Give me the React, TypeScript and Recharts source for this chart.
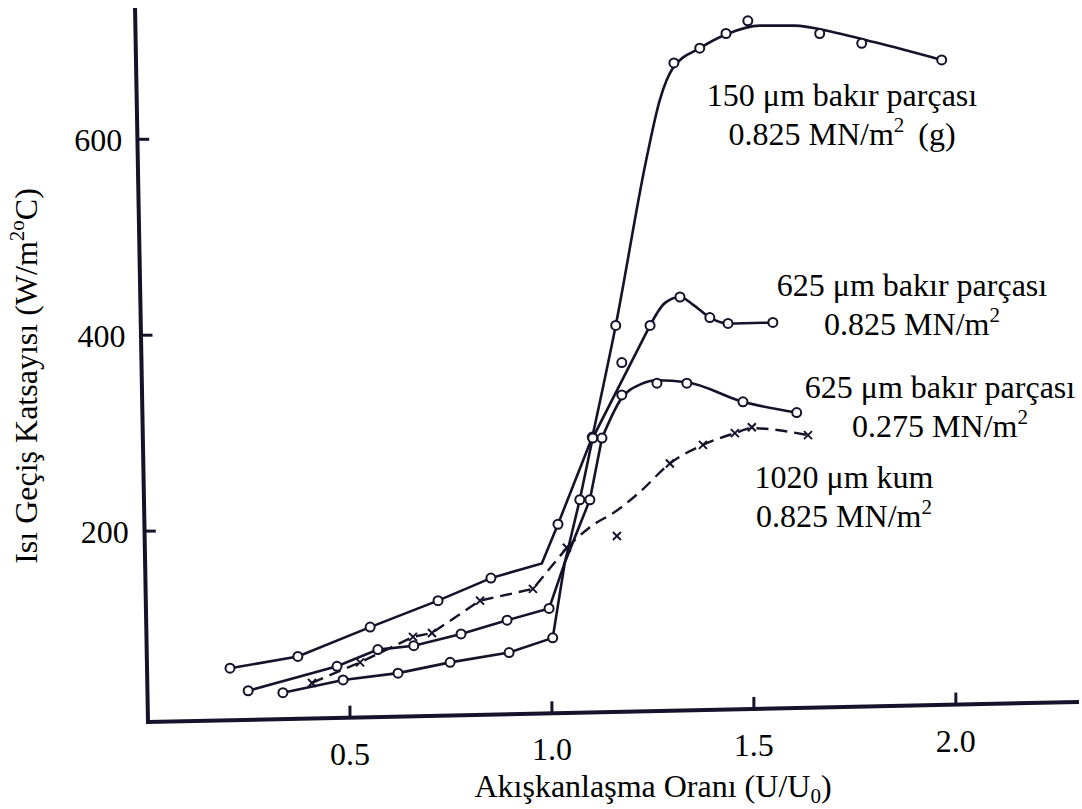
import { ComposedChart, Line, Scatter, XAxis, YAxis, ReferenceLine } from 'recharts';

type Pt = { x: number; y: number };

const pt = (x: number, y: number): Pt => ({ x, y });

// 150 µm bakır parçası, 0.825 MN/m2 (g)
const low150: Pt[] = [
  pt(0.203, 60), pt(0.371, 72), pt(0.55, 102), pt(0.718, 129), pt(0.849, 152),
  pt(0.975, 167), pt(1.015, 207), pt(1.1, 296),
];
const high150: Pt[] = [
  pt(1.1, 296), pt(1.158, 410), pt(1.235, 582), pt(1.267, 640), pt(1.3, 673),
  pt(1.366, 693), pt(1.431, 707), pt(1.515, 716), pt(1.6, 716), pt(1.7, 709),
  pt(1.8, 699), pt(1.965, 681),
];
const points150: Pt[] = [
  pt(0.203, 60), pt(0.371, 72), pt(0.55, 102), pt(0.718, 129), pt(0.849, 152),
  pt(1.015, 207), pt(1.1, 296), pt(1.158, 410), pt(1.302, 678), pt(1.366, 693),
  pt(1.431, 708), pt(1.485, 721), pt(1.663, 708), pt(1.767, 698), pt(1.965, 681),
];

// 625 µm bakır parçası, 0.825 MN/m2
const low625a: Pt[] = [
  pt(0.248, 37), pt(0.468, 62), pt(0.569, 79), pt(0.658, 83), pt(0.775, 95),
  pt(0.889, 109), pt(0.993, 121), pt(1.032, 168), pt(1.069, 232), pt(1.101, 295),
  pt(1.243, 410),
];
const high625a: Pt[] = [
  pt(1.243, 410), pt(1.28, 433), pt(1.317, 439), pt(1.35, 431), pt(1.391, 418),
  pt(1.436, 412), pt(1.547, 413),
];
const points625a: Pt[] = [
  pt(0.248, 37), pt(0.468, 62), pt(0.569, 79), pt(0.658, 83), pt(0.775, 95),
  pt(0.889, 109), pt(0.993, 121), pt(1.069, 232), pt(1.101, 295), pt(1.173, 372),
  pt(1.243, 410), pt(1.317, 439), pt(1.391, 418), pt(1.436, 412), pt(1.547, 413),
];

// 625 µm bakır parçası, 0.275 MN/m2
const low625b: Pt[] = [
  pt(0.334, 35), pt(0.483, 48), pt(0.619, 55), pt(0.748, 66), pt(0.894, 76),
  pt(1.002, 91), pt(1.032, 168), pt(1.094, 232), pt(1.124, 295),
];
const high625b: Pt[] = [
  pt(1.124, 295), pt(1.173, 336), pt(1.22, 350), pt(1.26, 354), pt(1.334, 352),
  pt(1.473, 332), pt(1.606, 321),
];
const points625b: Pt[] = [
  pt(0.334, 35), pt(0.483, 48), pt(0.619, 55), pt(0.748, 66), pt(0.894, 76),
  pt(1.002, 91), pt(1.094, 232), pt(1.124, 295), pt(1.173, 339), pt(1.26, 351),
  pt(1.334, 351), pt(1.473, 332), pt(1.606, 321),
];

// 1020 µm kum, 0.825 MN/m2
const lowKum: Pt[] = [
  pt(0.406, 45), pt(0.525, 66), pt(0.656, 92), pt(0.703, 96), pt(0.822, 129),
  pt(0.953, 141), pt(1.037, 183),
];
const highKum: Pt[] = [
  pt(1.037, 183), pt(1.094, 204), pt(1.161, 221), pt(1.218, 240), pt(1.292, 269),
  pt(1.374, 288), pt(1.453, 300), pt(1.495, 305), pt(1.634, 298),
];
const pointsKum: Pt[] = [
  pt(0.406, 45), pt(0.525, 66), pt(0.656, 92), pt(0.703, 96), pt(0.822, 129),
  pt(0.953, 141), pt(1.037, 183), pt(1.161, 195), pt(1.292, 269), pt(1.374, 288),
  pt(1.453, 300), pt(1.495, 306), pt(1.634, 298),
];

const xTicks = [0.5, 1.0, 1.5, 2.0];
const yTicks = [200, 400, 600];

const INK = '#15122a';
const FONT = '"Liberation Serif", "Times New Roman", serif';

// the scanned axes are not quite straight, ticks follow them
const xAxisLine: Pt[] = [pt(0, 5.1), pt(2.3, 25.5)];
const yAxisLine: Pt[] = [pt(-0.032, 732), pt(0, 5.1)];

function XTick(props: any) {
  const { x, y, payload } = props;
  const v = payload.value as number;
  const ay = y - 5 - 8.7 * v;
  return (
    <g>
      <line x1={x} y1={ay} x2={x} y2={ay - 12} stroke={INK} strokeWidth={3} />
      <text x={x} y={ay + 47} textAnchor="middle" fontFamily={FONT} fontSize={32} fill="#000">
        {v.toFixed(1)}
      </text>
    </g>
  );
}

function YTick(props: any) {
  const { y, payload } = props;
  const ax = 135 + ((y - 10) * 12) / 712;
  return (
    <g>
      <line x1={ax} y1={y} x2={ax + 12} y2={y} stroke={INK} strokeWidth={3} />
      <text x={ax - 15} y={y + 12} textAnchor="end" fontFamily={FONT} fontSize={32} fill="#000">
        {payload.value}
      </text>
    </g>
  );
}

const circleDot = (props: any) => (
  <circle cx={props.cx} cy={props.cy} r={4.5} fill="#fff" stroke={INK} strokeWidth={2} />
);

const crossDot = (props: any) => {
  const { cx, cy } = props;
  const s = 4;
  return (
    <g stroke={INK} strokeWidth={2}>
      <line x1={cx - s} y1={cy - s} x2={cx + s} y2={cy + s} />
      <line x1={cx - s} y1={cy + s} x2={cx + s} y2={cy - s} />
    </g>
  );
};

function Note({ x, y, lines }: { x: number; y: number; lines: [string, string, string?] }) {
  const [first, second, tail] = lines;
  return (
    <g fontFamily={FONT} fontSize={32} fill="#000" textAnchor="middle">
      <text x={x} y={y}>{first}</text>
      <text x={x} y={y + 39}>
        {second}
        <tspan fontSize={21} dy={-13}>2</tspan>
        {tail ? <tspan dy={13} dx={14}>{tail}</tspan> : null}
      </text>
    </g>
  );
}

const lineProps = {
  dataKey: 'y',
  stroke: INK,
  strokeWidth: 2.6,
  dot: false,
  isAnimationActive: false,
};

export default function App() {
  return (
    <div style={{ position: 'absolute', left: 0, top: 0, width: 1082, height: 809, background: '#fff' }}>
      <ComposedChart
        width={1082}
        height={809}
        margin={{ top: 10, right: 5, bottom: 0, left: 0 }}
      >
        <XAxis
          type="number"
          dataKey="x"
          domain={[0, 2.3]}
          ticks={xTicks}
          height={82}
          axisLine={false}
          tickLine={false}
          tickSize={0}
          tickMargin={0}
          tick={XTick}
          allowDataOverflow
        />
        <YAxis
          type="number"
          dataKey="y"
          domain={[0, 732]}
          ticks={yTicks}
          width={148}
          axisLine={false}
          tickLine={false}
          tickSize={0}
          tickMargin={0}
          tick={YTick}
          allowDataOverflow
        />
        <ReferenceLine segment={xAxisLine} stroke={INK} strokeWidth={4} ifOverflow="visible" strokeLinecap="square" />
        <ReferenceLine segment={yAxisLine} stroke={INK} strokeWidth={4} ifOverflow="visible" strokeLinecap="square" />

        <Line data={low150} type="linear" {...lineProps} />
        <Line data={high150} type="monotone" {...lineProps} />
        <Line data={low625a} type="linear" {...lineProps} />
        <Line data={high625a} type="monotone" {...lineProps} />
        <Line data={low625b} type="linear" {...lineProps} />
        <Line data={high625b} type="monotone" {...lineProps} />
        <Line data={lowKum} type="linear" {...lineProps} strokeWidth={2.4} strokeDasharray="12 7" />
        <Line data={highKum} type="monotone" {...lineProps} strokeWidth={2.4} strokeDasharray="12 7" />

        <Scatter data={points150} dataKey="y" shape={circleDot} isAnimationActive={false} />
        <Scatter data={points625a} dataKey="y" shape={circleDot} isAnimationActive={false} />
        <Scatter data={points625b} dataKey="y" shape={circleDot} isAnimationActive={false} />
        <Scatter data={pointsKum} dataKey="y" shape={crossDot} isAnimationActive={false} />
      </ComposedChart>

      <svg
        width={1082}
        height={809}
        style={{ position: 'absolute', left: 0, top: 0, pointerEvents: 'none' }}
      >
        <Note x={842} y={106} lines={['150 \u03bcm bakır parçası', '0.825 MN/m', '(g)']} />
        <Note x={912} y={296} lines={['625 \u03bcm bakır parçası', '0.825 MN/m']} />
        <Note x={940} y={398} lines={['625 \u03bcm bakır parçası', '0.275 MN/m']} />
        <Note x={844} y={488} lines={['1020 \u03bcm kum', '0.825 MN/m']} />

        <text x={653} y={797} textAnchor="middle" fontFamily={FONT} fontSize={32} fill="#000">
          Akışkanlaşma Oranı (U/U<tspan fontSize={21} dy={6}>0</tspan><tspan dy={-6}>)</tspan>
        </text>
        <text
          x={0}
          y={0}
          transform="translate(37 376) rotate(-90)"
          textAnchor="middle"
          fontFamily={FONT}
          fontSize={32}
          fill="#000"
        >
          Isı Geçiş Katsayısı (W/m<tspan fontSize={21} dy={-13}>2o</tspan><tspan dy={13}>C)</tspan>
        </text>
      </svg>
    </div>
  );
}
